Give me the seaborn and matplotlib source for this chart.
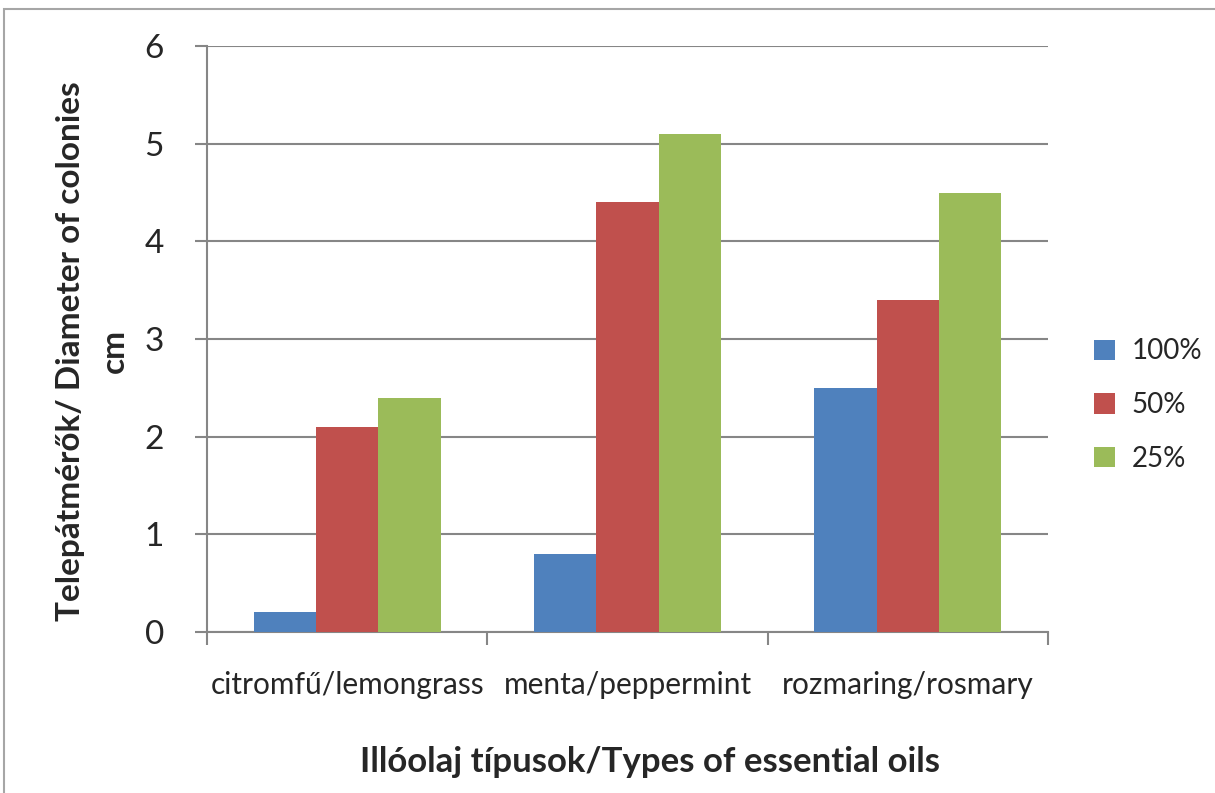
import pandas as pd
import matplotlib
matplotlib.use("Agg")
import matplotlib.pyplot as plt
import seaborn as sns
from matplotlib.patches import Rectangle
from matplotlib.ticker import FixedLocator

# ------------------------------
# データ
# ------------------------------
oils = ["citromfű/lemongrass", "menta/peppermint", "rozmaring/rosmary"]
concentrations = ["100%", "50%", "25%"]
val_100 = [0.2, 0.8, 2.5]
val_50 = [2.1, 4.4, 3.4]
val_25 = [2.4, 5.1, 4.5]
colors = ["#4F81BD", "#C0504D", "#9BBB59"]

df = pd.DataFrame({
    "oil": oils * 3,
    "conc": [c for c in concentrations for _ in oils],
    "diameter": val_100 + val_50 + val_25,
})

sns.set_theme(style="white")
plt.rcParams["font.family"] = ["Lato", "DejaVu Sans"]

grid_c = "#868686"

fig = plt.figure(figsize=(12.15, 7.93), dpi=100)
ax = fig.add_axes([0.1704, 0.203, 0.6922, 0.739])

sns.barplot(data=df, x="oil", y="diameter", hue="conc", hue_order=concentrations,
            order=oils, palette=colors, width=0.667, saturation=1, ax=ax,
            linewidth=0, zorder=3)

# 軸
ax.set_ylim(0, 6)
ax.set_xlim(-0.5, 2.5)
ax.set_yticks(range(0, 7))
ax.yaxis.grid(True, color=grid_c, linewidth=1.5, zorder=0)
ax.set_axisbelow(True)
for s in ["top", "right"]:
    ax.spines[s].set_visible(False)
for s in ["left", "bottom"]:
    ax.spines[s].set_color(grid_c)
    ax.spines[s].set_linewidth(1.5)

ax.tick_params(axis="y", which="major", direction="out", length=9, width=1.5,
               color=grid_c, left=True, labelsize=24, pad=22)
ax.tick_params(axis="x", which="major", length=0, labelsize=21.5, pad=28)
ax.xaxis.set_minor_locator(FixedLocator([-0.5, 0.5, 1.5, 2.5]))
ax.tick_params(axis="x", which="minor", direction="out", length=9, width=1.5,
               color=grid_c, bottom=True)

ax.set_ylabel("Telepátmérők/ Diameter of colonies\ncm", fontsize=24,
              fontweight="bold", linespacing=1.6)
ax.yaxis.set_label_coords(-0.093, 0.48)
ax.set_xlabel("Illóolaj típusok/Types of essential oils", fontsize=25, fontweight="bold")
ax.xaxis.set_label_coords(0.527, -0.195)

# 凡例
ax.legend(loc="center left", bbox_to_anchor=(1.025, 0.387), frameon=False,
          fontsize=20, handlelength=0.75, handleheight=0.75, handletextpad=0.6,
          labelspacing=1.0)

# 外枠
fig.patches.append(Rectangle((0.0033, -0.05), 1.1, 1.0387, transform=fig.transFigure,
                             fill=False, edgecolor="#A6A6A6", linewidth=1.5))

fig.savefig("out.png", dpi=100)
